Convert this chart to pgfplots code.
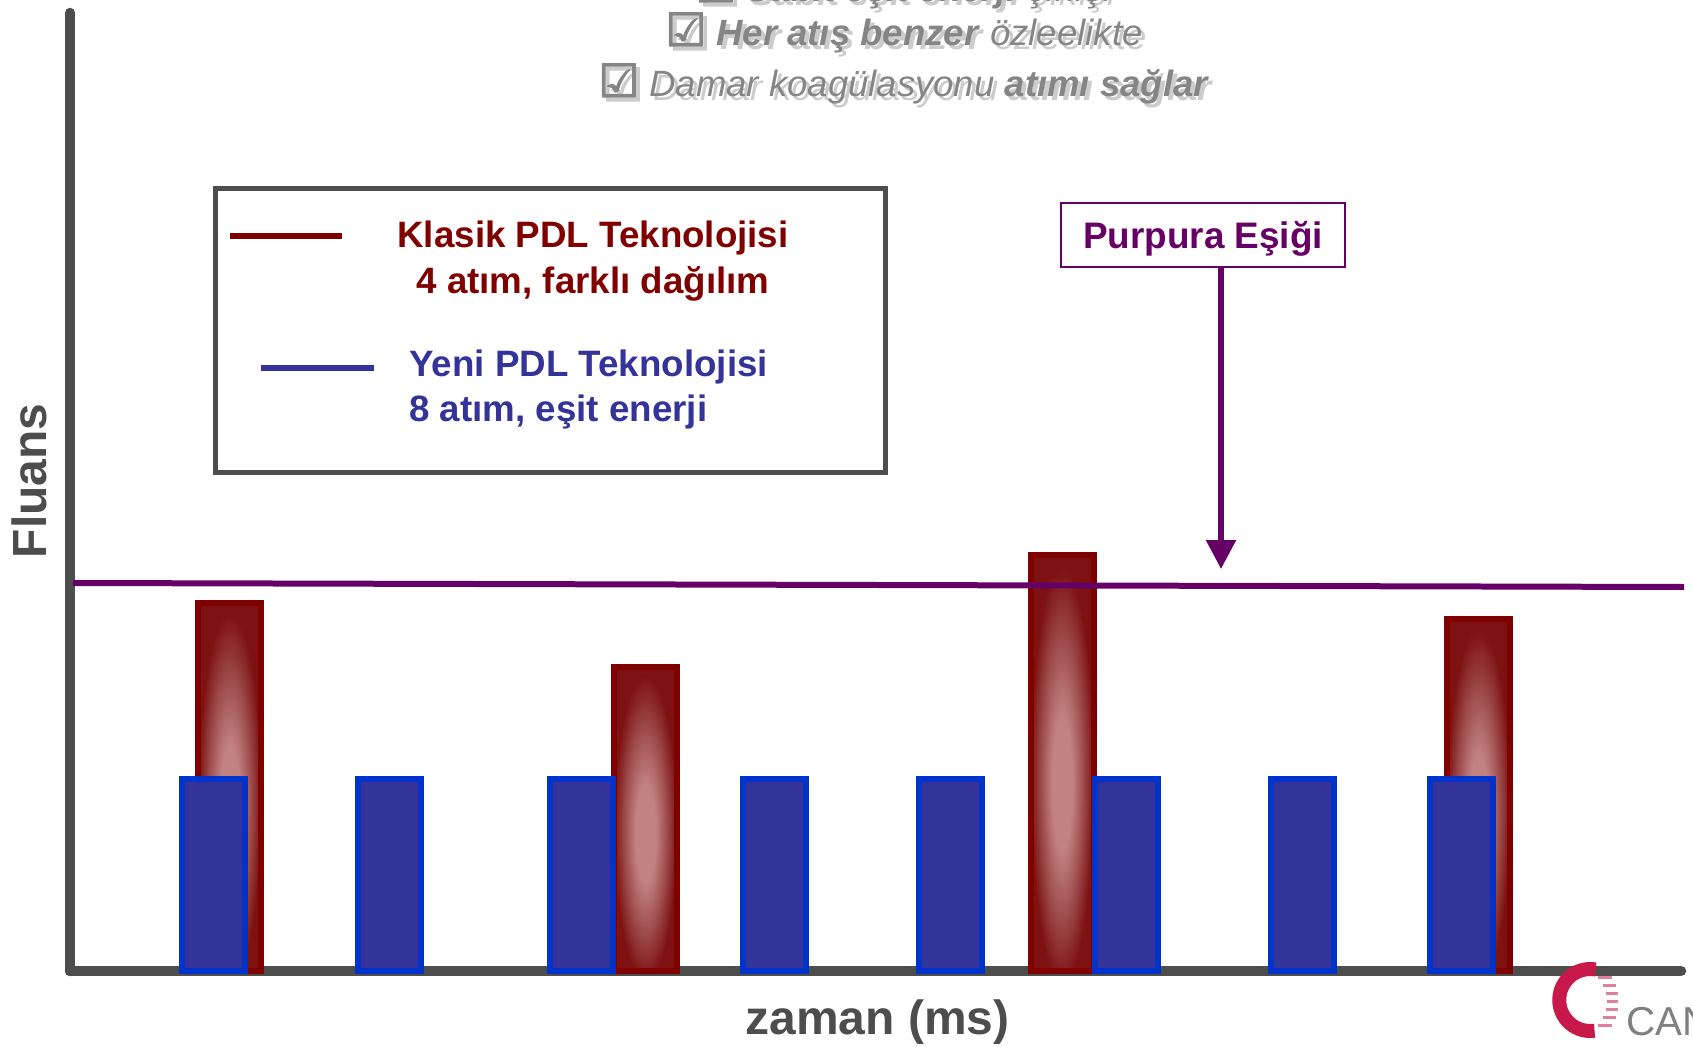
\documentclass[border=0pt]{standalone}
\usepackage{fontspec}
\setmainfont{Liberation Sans}
\newfontfamily\symfont[FakeBold=2.5]{DejaVu Sans}
\usepackage{pgfplots}
\pgfplotsset{compat=1.18}
\usetikzlibrary{arrows.meta}

\definecolor{axgray}{HTML}{4D4D4D}
\definecolor{purp}{HTML}{660066}
\definecolor{darkred}{HTML}{800000}
\definecolor{redinner}{HTML}{C28282}
\definecolor{redmid}{HTML}{9C4A4A}
\definecolor{redouter}{HTML}{7E1212}
\definecolor{barblue}{HTML}{333399}
\definecolor{edgeblue}{HTML}{0033CC}
\definecolor{txtgray}{HTML}{858585}
\definecolor{shadowgray}{HTML}{CCCCCC}
\definecolor{logored}{HTML}{C8184A}

% pink core, dark red edges; the bar edge falls at 25bp
\pgfdeclareradialshading{barshade}{\pgfpoint{0bp}{-3bp}}{%
  color(0bp)=(redinner); color(8bp)=(redinner); color(17bp)=(redmid);
  color(25bp)=(redouter); color(50bp)=(redouter)}

% 1 px of the reference = 0.02cm = 0.569pt
\newcommand{\fs}[1]{\fontsize{#1pt}{#1pt}\selectfont}
\newcommand{\cbox}{{\symfont\fs{26}☑}\hspace{0.2cm}}
\newcommand{\lineA}{\cbox\textit{\textbf{Sabit eşit enerji}} \textit{çıkışı}}
\newcommand{\lineB}{\cbox\textit{\textbf{Her atış benzer}} \textit{özleelikte}}
\newcommand{\lineC}{\cbox\textit{Damar koagülasyonu} \textit{\textbf{atımı sağlar}}}

\pgfplotsset{
  redpulse/.style={ybar, bar shift=0pt, bar width=63, line width=0.12cm,
    draw=darkred, shade, shading=barshade},
}

\begin{document}
\begin{tikzpicture}
\begin{axis}[
  x=0.02cm, y=0.02cm,
  xmin=0, xmax=1611, ymin=0, ymax=958,
  enlargelimits=false,
  axis lines=left,
  axis line style={-, line width=0.21cm, draw=axgray, line cap=round},
  every outer x axis line/.append style={-},
  every outer y axis line/.append style={-},
  xtick=\empty, ytick=\empty,
  clip=false,
  xlabel={zaman (ms)}, ylabel={Fluans},
  xlabel style={at={(axis description cs:0.5012,-0.0658)}, anchor=base,
    inner sep=0pt, font=\bfseries\fs{27.3}, text=axgray},
  ylabel style={at={(axis description cs:-0.0143,0.5115)}, anchor=base,
    inner sep=0pt, font=\bfseries\fs{27.3}, text=axgray},
]
% Klasik PDL: 4 pulses of different height (one plot each, so each bar gets its own shading)
\addplot[redpulse] coordinates {(159.75,368)};
\addplot[redpulse] coordinates {(575.5,304)};
\addplot[redpulse] coordinates {(992,416)};
\addplot[redpulse] coordinates {(1408.5,352)};
% Yeni PDL: 8 equal pulses
\addplot[ybar, bar shift=0pt, bar width=63, line width=0.12cm, draw=edgeblue,
  fill=barblue] coordinates {
  (143.5,192) (319.5,192) (511.5,192) (704.5,192)
  (880.5,192) (1056.5,192) (1232.5,192) (1391.5,192)
};
% purpura threshold
\addplot[purp, line width=0.12cm] coordinates {(3,388) (1614,384)};
\draw[purp, line width=0.11cm, -{Triangle[width=0.58cm,length=0.58cm]}]
  (axis cs:1151,703) -- (axis cs:1151,402);
\draw[purp, line width=0.05cm, fill=white] (axis cs:991,704) rectangle (axis cs:1275,768);
\node[anchor=base, text=purp, font=\bfseries\fs{21}] at (axis cs:1133,722) {Purpura Eşiği};

% legend box
\draw[axgray, line width=0.1cm, fill=white] (axis cs:145.5,782.5) rectangle (axis cs:815.5,498.5);
\draw[darkred, line width=0.11cm] (axis cs:160,735) -- (axis cs:272,735);
\node[anchor=base, text=darkred, font=\bfseries\fs{20.9}] at (axis cs:523,723) {Klasik PDL Teknolojisi};
\node[anchor=base, text=darkred, font=\bfseries\fs{20.9}] at (axis cs:523,678) {4 atım, farklı dağılım};
\draw[barblue, line width=0.11cm] (axis cs:191,603) -- (axis cs:304,603);
\node[anchor=base west, inner sep=0pt, text=barblue, font=\bfseries\fs{20.9}] at (axis cs:339,595) {Yeni PDL Teknolojisi};
\node[anchor=base west, inner sep=0pt, text=barblue, font=\bfseries\fs{20.9}] at (axis cs:339,550) {8 atım, eşit enerji};

% heading lines (the first is cut by the top edge), grey shadow first
\node[anchor=base, text=shadowgray, font=\fs{20.8}] at (axis cs:838,965) {\lineA};
\node[anchor=base, text=txtgray, font=\fs{20.8}] at (axis cs:834,969) {\lineA};
\node[anchor=base, text=shadowgray, font=\fs{20.8}] at (axis cs:838,921) {\lineB};
\node[anchor=base, text=txtgray, font=\fs{20.8}] at (axis cs:834,925) {\lineB};
\node[anchor=base, text=shadowgray, font=\fs{20.8}] at (axis cs:838,870) {\lineC};
\node[anchor=base, text=txtgray, font=\fs{20.8}] at (axis cs:834,874) {\lineC};

% logo at the bottom right
\draw[logored, line width=0.28cm] (axis cs:1525.6,1.5) arc[start angle=80, end angle=278, radius=0.62cm];
\draw[logored!55, line width=0.06cm] (axis cs:1528,-6) -- (axis cs:1542,-6);
\draw[logored!55, line width=0.06cm] (axis cs:1533,-14) -- (axis cs:1546,-14);
\draw[logored!55, line width=0.06cm] (axis cs:1536,-22) -- (axis cs:1548,-22);
\draw[logored!55, line width=0.06cm] (axis cs:1537,-30) -- (axis cs:1548,-30);
\draw[logored!55, line width=0.06cm] (axis cs:1536,-38) -- (axis cs:1548,-38);
\draw[logored!55, line width=0.06cm] (axis cs:1533,-46) -- (axis cs:1546,-46);
\draw[logored!55, line width=0.06cm] (axis cs:1528,-54) -- (axis cs:1542,-54);
\node[anchor=base west, inner sep=0pt, text=gray, font=\fs{23}] at (axis cs:1556,-64) {CAN};

\coordinate (bbl) at (axis cs:-70,-75);
\coordinate (btr) at (axis cs:1623,971);
\end{axis}
\pgfresetboundingbox
\path[use as bounding box] (bbl) rectangle (btr);
\end{tikzpicture}
\end{document}
